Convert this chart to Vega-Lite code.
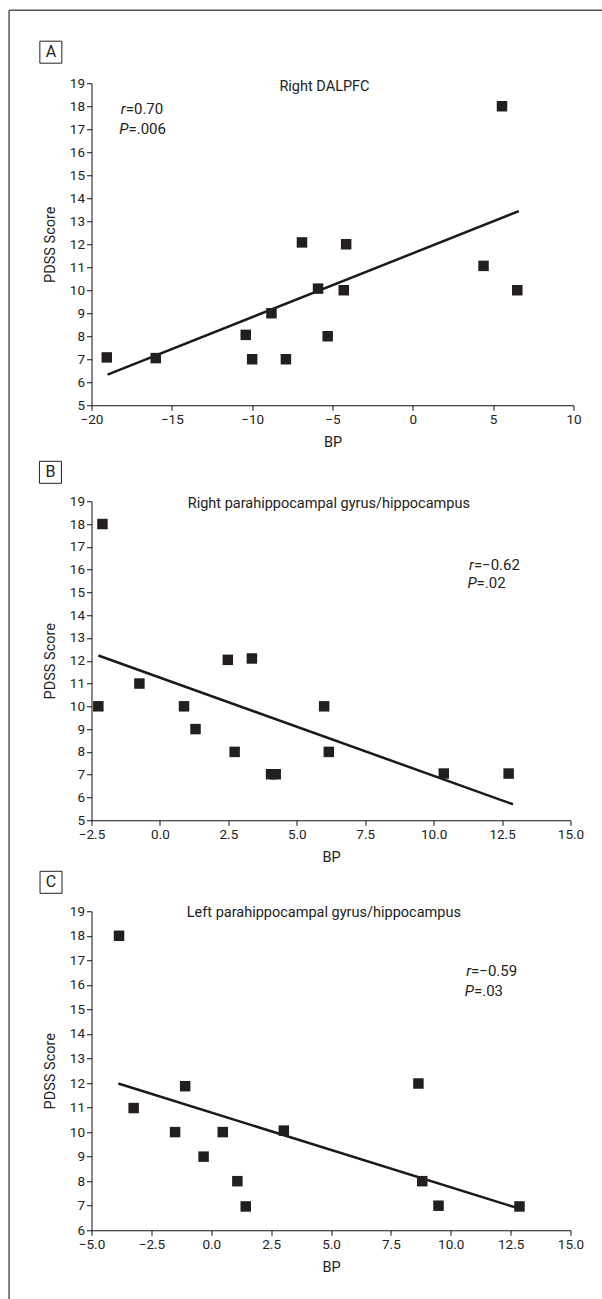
{
  "$schema": "https://vega.github.io/schema/vega-lite/v6.json",
  "padding": {"left": 7.5, "top": 9.25, "right": 0, "bottom": 0},
  "background": "white",
  "bounds": "flush",
  "spacing": 96,
  "config": {
    "view": {"stroke": null},
    "font": "Roboto, sans-serif",
    "axis": {
      "grid": false,
      "domainColor": "#111",
      "tickColor": "#111",
      "domainWidth": 1,
      "tickWidth": 1,
      "tickSize": 5,
      "labelColor": "#222",
      "titleColor": "#222",
      "labelFont": "Roboto, sans-serif",
      "titleFont": "Roboto, sans-serif",
      "labelFontSize": 13.5,
      "titleFontSize": 14.5,
      "titleFontWeight": "normal",
      "labelPadding": 2,
      "labelOverlap": false
    },
    "axisY": {"titlePadding": 12, "labelFlush": false},
    "axisX": {"titlePadding": 10, "labelFlush": false},
    "text": {"font": "Roboto, sans-serif", "color": "#222"}
  },
  "datasets": {
    "ptsA": [
      {"bp": -19.05, "score": 7.08}, {"bp": -16.0, "score": 7.05}, {"bp": -10.4, "score": 8.06},
      {"bp": -10.0, "score": 7.0}, {"bp": -8.8, "score": 9.0}, {"bp": -7.9, "score": 7.0},
      {"bp": -6.9, "score": 12.08}, {"bp": -5.9, "score": 10.07}, {"bp": -5.3, "score": 8.0},
      {"bp": -4.3, "score": 10.0}, {"bp": -4.15, "score": 12.0}, {"bp": 4.4, "score": 11.06},
      {"bp": 5.55, "score": 18.0}, {"bp": 6.5, "score": 10.0}
    ],
    "lineA": [{"bp": -19.0, "score": 6.33}, {"bp": 6.6, "score": 13.44}],
    "ptsB": [
      {"bp": -2.1, "score": 18.0}, {"bp": -2.25, "score": 10.0}, {"bp": -0.75, "score": 11.0},
      {"bp": 0.88, "score": 10.0}, {"bp": 1.3, "score": 9.0}, {"bp": 2.48, "score": 12.04},
      {"bp": 2.73, "score": 8.0}, {"bp": 3.36, "score": 12.1}, {"bp": 4.06, "score": 7.02},
      {"bp": 4.23, "score": 7.02}, {"bp": 6.0, "score": 10.0}, {"bp": 6.17, "score": 8.0},
      {"bp": 10.37, "score": 7.05}, {"bp": 12.74, "score": 7.05}
    ],
    "lineB": [{"bp": -2.25, "score": 12.23}, {"bp": 12.9, "score": 5.7}],
    "ptsC": [
      {"bp": -3.85, "score": 18.0}, {"bp": -3.24, "score": 10.98}, {"bp": -1.51, "score": 10.0},
      {"bp": -1.09, "score": 11.87}, {"bp": -0.32, "score": 9.0}, {"bp": 0.48, "score": 10.0},
      {"bp": 1.09, "score": 8.0}, {"bp": 1.44, "score": 6.97}, {"bp": 3.03, "score": 10.06},
      {"bp": 8.65, "score": 11.98}, {"bp": 8.81, "score": 8.0}, {"bp": 9.49, "score": 7.0},
      {"bp": 12.87, "score": 6.97}
    ],
    "lineC": [{"bp": -3.88, "score": 11.98}, {"bp": 12.7, "score": 6.93}],
    "one": [{"k": 1}]
  },
  "vconcat": [
    {
      "width": 482,
      "height": 322,
      "layer": [
        {
          "data": {"name": "one"},
          "mark": {"type": "rule", "color": "#555", "strokeWidth": 1.5},
          "encoding": {
            "x": {"datum": -25.13, "type": "quantitative", "title": "BP", "axis": {"values": [-20, -15, -10, -5, 0, 5, 10], "format": "d"}},
            "y": {"datum": 22.17, "type": "quantitative", "title": "PDSS Score", "axis": {"values": [5, 6, 7, 8, 9, 10, 11, 12, 13, 14, 15, 16, 17, 18, 19], "format": "d"}},
            "y2": {"datum": -45}
          }
        },
        {
          "data": {"name": "one"},
          "mark": {"type": "rule", "color": "#555", "strokeWidth": 1.5},
          "encoding": {
            "x": {"datum": -25.13, "type": "quantitative", "title": "BP", "axis": {"values": [-20, -15, -10, -5, 0, 5, 10], "format": "d"}},
            "x2": {"datum": 14},
            "y": {"datum": 22.17, "type": "quantitative", "title": "PDSS Score", "axis": {"values": [5, 6, 7, 8, 9, 10, 11, 12, 13, 14, 15, 16, 17, 18, 19], "format": "d"}}
          }
        },
        {
          "data": {"name": "lineA"},
          "mark": {"type": "line", "color": "#1a1a1a", "strokeWidth": 2.5},
          "encoding": {
            "x": {"field": "bp", "type": "quantitative", "title": "BP", "axis": {"values": [-20, -15, -10, -5, 0, 5, 10], "format": "d"}},
            "y": {"field": "score", "type": "quantitative", "title": "PDSS Score", "axis": {"values": [5, 6, 7, 8, 9, 10, 11, 12, 13, 14, 15, 16, 17, 18, 19], "format": "d"}}
          }
        },
        {
          "data": {"name": "ptsA"},
          "mark": {"type": "point", "shape": "square", "filled": true, "size": 110, "color": "#231f20", "opacity": 1},
          "encoding": {
            "x": {"field": "bp", "type": "quantitative", "title": "BP",
                  "scale": {"domain": [-20, 10], "nice": false, "zero": false},
                  "axis": {"values": [-20, -15, -10, -5, 0, 5, 10], "format": "d"}},
            "y": {"field": "score", "type": "quantitative", "title": "PDSS Score",
                  "scale": {"domain": [5, 19], "nice": false, "zero": false},
                  "axis": {"values": [5, 6, 7, 8, 9, 10, 11, 12, 13, 14, 15, 16, 17, 18, 19], "format": "d"}}
          }
        },
        {
          "data": {"name": "one"},
          "mark": {"type": "point", "shape": "square", "filled": false, "size": 484, "color": "#222", "strokeWidth": 1, "opacity": 1},
          "encoding": {
            "x": {"datum": -22.53, "type": "quantitative", "title": "BP", "axis": {"values": [-20, -15, -10, -5, 0, 5, 10], "format": "d"}},
            "y": {"datum": 20.35, "type": "quantitative", "title": "PDSS Score", "axis": {"values": [5, 6, 7, 8, 9, 10, 11, 12, 13, 14, 15, 16, 17, 18, 19], "format": "d"}}
          }
        },
        {
          "data": {"name": "one"},
          "mark": {"type": "text", "text": "A", "fontSize": 16, "baseline": "middle", "align": "center"},
          "encoding": {
            "x": {"datum": -22.53, "type": "quantitative", "title": "BP", "axis": {"values": [-20, -15, -10, -5, 0, 5, 10], "format": "d"}},
            "y": {"datum": 20.35, "type": "quantitative", "title": "PDSS Score", "axis": {"values": [5, 6, 7, 8, 9, 10, 11, 12, 13, 14, 15, 16, 17, 18, 19], "format": "d"}}
          }
        },
        {
          "data": {"name": "one"},
          "mark": {"type": "text", "text": "Right DALPFC", "fontSize": 14.5, "baseline": "middle", "align": "center"},
          "encoding": {
            "x": {"datum": -5.5, "type": "quantitative", "title": "BP", "axis": {"values": [-20, -15, -10, -5, 0, 5, 10], "format": "d"}},
            "y": {"datum": 18.85, "type": "quantitative", "title": "PDSS Score", "axis": {"values": [5, 6, 7, 8, 9, 10, 11, 12, 13, 14, 15, 16, 17, 18, 19], "format": "d"}}
          }
        },
        {
          "data": {"name": "one"},
          "mark": {"type": "text", "text": "r", "fontStyle": "italic", "fontSize": 15, "baseline": "middle", "align": "right"},
          "encoding": {
            "x": {"datum": -17.87, "type": "quantitative", "title": "BP", "axis": {"values": [-20, -15, -10, -5, 0, 5, 10], "format": "d"}},
            "y": {"datum": 17.9, "type": "quantitative", "title": "PDSS Score", "axis": {"values": [5, 6, 7, 8, 9, 10, 11, 12, 13, 14, 15, 16, 17, 18, 19], "format": "d"}}
          }
        },
        {
          "data": {"name": "one"},
          "mark": {"type": "text", "text": "=0.70", "fontSize": 15, "baseline": "middle", "align": "left"},
          "encoding": {
            "x": {"datum": -17.87, "type": "quantitative", "title": "BP", "axis": {"values": [-20, -15, -10, -5, 0, 5, 10], "format": "d"}},
            "y": {"datum": 17.9, "type": "quantitative", "title": "PDSS Score", "axis": {"values": [5, 6, 7, 8, 9, 10, 11, 12, 13, 14, 15, 16, 17, 18, 19], "format": "d"}}
          }
        },
        {
          "data": {"name": "one"},
          "mark": {"type": "text", "text": "P", "fontStyle": "italic", "fontSize": 15, "baseline": "middle", "align": "right"},
          "encoding": {
            "x": {"datum": -17.7, "type": "quantitative", "title": "BP", "axis": {"values": [-20, -15, -10, -5, 0, 5, 10], "format": "d"}},
            "y": {"datum": 17.0, "type": "quantitative", "title": "PDSS Score", "axis": {"values": [5, 6, 7, 8, 9, 10, 11, 12, 13, 14, 15, 16, 17, 18, 19], "format": "d"}}
          }
        },
        {
          "data": {"name": "one"},
          "mark": {"type": "text", "text": "=.006", "fontSize": 15, "baseline": "middle", "align": "left"},
          "encoding": {
            "x": {"datum": -17.7, "type": "quantitative", "title": "BP", "axis": {"values": [-20, -15, -10, -5, 0, 5, 10], "format": "d"}},
            "y": {"datum": 17.0, "type": "quantitative", "title": "PDSS Score", "axis": {"values": [5, 6, 7, 8, 9, 10, 11, 12, 13, 14, 15, 16, 17, 18, 19], "format": "d"}}
          }
        }
      ]
    },
    {
      "bounds": "flush",
      "spacing": 91,
      "vconcat": [
        {
          "width": 479,
          "height": 319,
          "layer": [
            {
              "data": {"name": "lineB"},
              "mark": {"type": "line", "color": "#1a1a1a", "strokeWidth": 2.5},
              "encoding": {
                "x": {"field": "bp", "type": "quantitative", "title": "BP", "axis": {"values": [-2.5, 0, 2.5, 5, 7.5, 10, 12.5, 15], "format": ".1f"}},
                "y": {"field": "score", "type": "quantitative", "title": "PDSS Score", "axis": {"values": [5, 6, 7, 8, 9, 10, 11, 12, 13, 14, 15, 16, 17, 18, 19], "format": "d"}}
              }
            },
            {
              "data": {"name": "ptsB"},
              "mark": {"type": "point", "shape": "square", "filled": true, "size": 110, "color": "#231f20", "opacity": 1},
              "encoding": {
                "x": {"field": "bp", "type": "quantitative", "title": "BP",
                      "scale": {"domain": [-2.5, 15], "nice": false, "zero": false},
                      "axis": {"values": [-2.5, 0, 2.5, 5, 7.5, 10, 12.5, 15], "format": ".1f"}},
                "y": {"field": "score", "type": "quantitative", "title": "PDSS Score",
                      "scale": {"domain": [5, 19], "nice": false, "zero": false},
                      "axis": {"values": [5, 6, 7, 8, 9, 10, 11, 12, 13, 14, 15, 16, 17, 18, 19], "format": "d"}}
              }
            },
            {
              "data": {"name": "one"},
              "mark": {"type": "point", "shape": "square", "filled": false, "size": 484, "color": "#222", "strokeWidth": 1, "opacity": 1},
              "encoding": {
                "x": {"datum": -4.0, "type": "quantitative", "title": "BP", "axis": {"values": [-2.5, 0, 2.5, 5, 7.5, 10, 12.5, 15], "format": ".1f"}},
                "y": {"datum": 20.27, "type": "quantitative", "title": "PDSS Score", "axis": {"values": [5, 6, 7, 8, 9, 10, 11, 12, 13, 14, 15, 16, 17, 18, 19], "format": "d"}}
              }
            },
            {
              "data": {"name": "one"},
              "mark": {"type": "text", "text": "B", "fontSize": 16, "baseline": "middle", "align": "center"},
              "encoding": {
                "x": {"datum": -4.0, "type": "quantitative", "title": "BP", "axis": {"values": [-2.5, 0, 2.5, 5, 7.5, 10, 12.5, 15], "format": ".1f"}},
                "y": {"datum": 20.27, "type": "quantitative", "title": "PDSS Score", "axis": {"values": [5, 6, 7, 8, 9, 10, 11, 12, 13, 14, 15, 16, 17, 18, 19], "format": "d"}}
              }
            },
            {
              "data": {"name": "one"},
              "mark": {"type": "text", "text": "Right parahippocampal gyrus/hippocampus", "fontSize": 14.5, "baseline": "middle", "align": "center"},
              "encoding": {
                "x": {"datum": 6.17, "type": "quantitative", "title": "BP", "axis": {"values": [-2.5, 0, 2.5, 5, 7.5, 10, 12.5, 15], "format": ".1f"}},
                "y": {"datum": 18.88, "type": "quantitative", "title": "PDSS Score", "axis": {"values": [5, 6, 7, 8, 9, 10, 11, 12, 13, 14, 15, 16, 17, 18, 19], "format": "d"}}
              }
            },
            {
              "data": {"name": "one"},
              "mark": {"type": "text", "text": "r", "fontStyle": "italic", "fontSize": 15, "baseline": "middle", "align": "right"},
              "encoding": {
                "x": {"datum": 11.47, "type": "quantitative", "title": "BP", "axis": {"values": [-2.5, 0, 2.5, 5, 7.5, 10, 12.5, 15], "format": ".1f"}},
                "y": {"datum": 16.22, "type": "quantitative", "title": "PDSS Score", "axis": {"values": [5, 6, 7, 8, 9, 10, 11, 12, 13, 14, 15, 16, 17, 18, 19], "format": "d"}}
              }
            },
            {
              "data": {"name": "one"},
              "mark": {"type": "text", "text": "=−0.62", "fontSize": 15, "baseline": "middle", "align": "left"},
              "encoding": {
                "x": {"datum": 11.47, "type": "quantitative", "title": "BP", "axis": {"values": [-2.5, 0, 2.5, 5, 7.5, 10, 12.5, 15], "format": ".1f"}},
                "y": {"datum": 16.22, "type": "quantitative", "title": "PDSS Score", "axis": {"values": [5, 6, 7, 8, 9, 10, 11, 12, 13, 14, 15, 16, 17, 18, 19], "format": "d"}}
              }
            },
            {
              "data": {"name": "one"},
              "mark": {"type": "text", "text": "P", "fontStyle": "italic", "fontSize": 15, "baseline": "middle", "align": "right"},
              "encoding": {
                "x": {"datum": 11.57, "type": "quantitative", "title": "BP", "axis": {"values": [-2.5, 0, 2.5, 5, 7.5, 10, 12.5, 15], "format": ".1f"}},
                "y": {"datum": 15.4, "type": "quantitative", "title": "PDSS Score", "axis": {"values": [5, 6, 7, 8, 9, 10, 11, 12, 13, 14, 15, 16, 17, 18, 19], "format": "d"}}
              }
            },
            {
              "data": {"name": "one"},
              "mark": {"type": "text", "text": "=.02", "fontSize": 15, "baseline": "middle", "align": "left"},
              "encoding": {
                "x": {"datum": 11.57, "type": "quantitative", "title": "BP", "axis": {"values": [-2.5, 0, 2.5, 5, 7.5, 10, 12.5, 15], "format": ".1f"}},
                "y": {"datum": 15.4, "type": "quantitative", "title": "PDSS Score", "axis": {"values": [5, 6, 7, 8, 9, 10, 11, 12, 13, 14, 15, 16, 17, 18, 19], "format": "d"}}
              }
            }
          ]
        },
        {
          "width": 479,
          "height": 319,
          "layer": [
            {
              "data": {"name": "lineC"},
              "mark": {"type": "line", "color": "#1a1a1a", "strokeWidth": 2.5},
              "encoding": {
                "x": {"field": "bp", "type": "quantitative", "title": "BP", "axis": {"values": [-5, -2.5, 0, 2.5, 5, 7.5, 10, 12.5, 15], "format": ".1f"}},
                "y": {"field": "score", "type": "quantitative", "title": "PDSS Score", "axis": {"values": [6, 7, 8, 9, 10, 11, 12, 13, 14, 15, 16, 17, 18, 19], "format": "d"}}
              }
            },
            {
              "data": {"name": "ptsC"},
              "mark": {"type": "point", "shape": "square", "filled": true, "size": 110, "color": "#231f20", "opacity": 1},
              "encoding": {
                "x": {"field": "bp", "type": "quantitative", "title": "BP",
                      "scale": {"domain": [-5, 15], "nice": false, "zero": false},
                      "axis": {"values": [-5, -2.5, 0, 2.5, 5, 7.5, 10, 12.5, 15], "format": ".1f"}},
                "y": {"field": "score", "type": "quantitative", "title": "PDSS Score",
                      "scale": {"domain": [6, 19], "nice": false, "zero": false},
                      "axis": {"values": [6, 7, 8, 9, 10, 11, 12, 13, 14, 15, 16, 17, 18, 19], "format": "d"}}
              }
            },
            {
              "data": {"name": "one"},
              "mark": {"type": "point", "shape": "square", "filled": false, "size": 484, "color": "#222", "strokeWidth": 1, "opacity": 1},
              "encoding": {
                "x": {"datum": -6.69, "type": "quantitative", "title": "BP", "axis": {"values": [-5, -2.5, 0, 2.5, 5, 7.5, 10, 12.5, 15], "format": ".1f"}},
                "y": {"datum": 20.18, "type": "quantitative", "title": "PDSS Score", "axis": {"values": [6, 7, 8, 9, 10, 11, 12, 13, 14, 15, 16, 17, 18, 19], "format": "d"}}
              }
            },
            {
              "data": {"name": "one"},
              "mark": {"type": "text", "text": "C", "fontSize": 16, "baseline": "middle", "align": "center"},
              "encoding": {
                "x": {"datum": -6.69, "type": "quantitative", "title": "BP", "axis": {"values": [-5, -2.5, 0, 2.5, 5, 7.5, 10, 12.5, 15], "format": ".1f"}},
                "y": {"datum": 20.18, "type": "quantitative", "title": "PDSS Score", "axis": {"values": [6, 7, 8, 9, 10, 11, 12, 13, 14, 15, 16, 17, 18, 19], "format": "d"}}
              }
            },
            {
              "data": {"name": "one"},
              "mark": {"type": "text", "text": "Left parahippocampal gyrus/hippocampus", "fontSize": 14.5, "baseline": "middle", "align": "center"},
              "encoding": {
                "x": {"datum": 4.7, "type": "quantitative", "title": "BP", "axis": {"values": [-5, -2.5, 0, 2.5, 5, 7.5, 10, 12.5, 15], "format": ".1f"}},
                "y": {"datum": 18.93, "type": "quantitative", "title": "PDSS Score", "axis": {"values": [6, 7, 8, 9, 10, 11, 12, 13, 14, 15, 16, 17, 18, 19], "format": "d"}}
              }
            },
            {
              "data": {"name": "one"},
              "mark": {"type": "text", "text": "r", "fontStyle": "italic", "fontSize": 15, "baseline": "middle", "align": "right"},
              "encoding": {
                "x": {"datum": 10.85, "type": "quantitative", "title": "BP", "axis": {"values": [-5, -2.5, 0, 2.5, 5, 7.5, 10, 12.5, 15], "format": ".1f"}},
                "y": {"datum": 16.55, "type": "quantitative", "title": "PDSS Score", "axis": {"values": [6, 7, 8, 9, 10, 11, 12, 13, 14, 15, 16, 17, 18, 19], "format": "d"}}
              }
            },
            {
              "data": {"name": "one"},
              "mark": {"type": "text", "text": "=−0.59", "fontSize": 15, "baseline": "middle", "align": "left"},
              "encoding": {
                "x": {"datum": 10.85, "type": "quantitative", "title": "BP", "axis": {"values": [-5, -2.5, 0, 2.5, 5, 7.5, 10, 12.5, 15], "format": ".1f"}},
                "y": {"datum": 16.55, "type": "quantitative", "title": "PDSS Score", "axis": {"values": [6, 7, 8, 9, 10, 11, 12, 13, 14, 15, 16, 17, 18, 19], "format": "d"}}
              }
            },
            {
              "data": {"name": "one"},
              "mark": {"type": "text", "text": "P", "fontStyle": "italic", "fontSize": 15, "baseline": "middle", "align": "right"},
              "encoding": {
                "x": {"datum": 10.97, "type": "quantitative", "title": "BP", "axis": {"values": [-5, -2.5, 0, 2.5, 5, 7.5, 10, 12.5, 15], "format": ".1f"}},
                "y": {"datum": 15.73, "type": "quantitative", "title": "PDSS Score", "axis": {"values": [6, 7, 8, 9, 10, 11, 12, 13, 14, 15, 16, 17, 18, 19], "format": "d"}}
              }
            },
            {
              "data": {"name": "one"},
              "mark": {"type": "text", "text": "=.03", "fontSize": 15, "baseline": "middle", "align": "left"},
              "encoding": {
                "x": {"datum": 10.97, "type": "quantitative", "title": "BP", "axis": {"values": [-5, -2.5, 0, 2.5, 5, 7.5, 10, 12.5, 15], "format": ".1f"}},
                "y": {"datum": 15.73, "type": "quantitative", "title": "PDSS Score", "axis": {"values": [6, 7, 8, 9, 10, 11, 12, 13, 14, 15, 16, 17, 18, 19], "format": "d"}}
              }
            }
          ]
        }
      ]
    }
  ]
}
